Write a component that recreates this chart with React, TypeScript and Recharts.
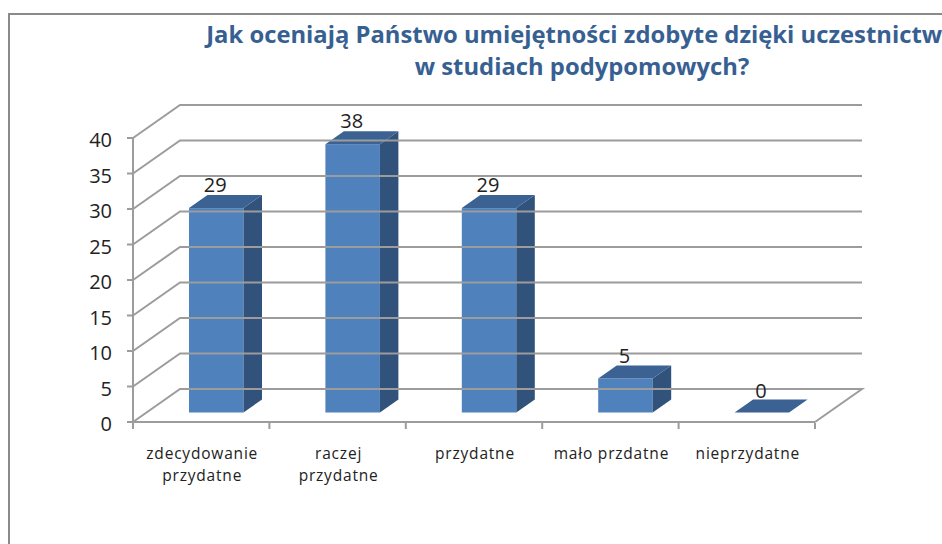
import React from 'react';
import { ComposedChart, Bar, XAxis, YAxis, ReferenceLine, LabelList } from 'recharts';

const categories = ['zdecydowanie przydatne', 'raczej przydatne', 'przydatne', 'mało przdatne', 'nieprzydatne'];
const categoryLines = [['zdecydowanie', 'przydatne'], ['raczej', 'przydatne'], ['przydatne'], ['mało przdatne'], ['nieprzydatne']];
const values = [29, 38, 29, 5, 0];
const yTicks = [0, 5, 10, 15, 20, 25, 30, 35, 40];
const titleLines = ['Jak oceniają Państwo umiejętności zdobyte dzięki uczestnictwu', 'w studiach podypomowych?'];

const data = categories.map((c, i) => ({ category: c, lines: categoryLines[i], value: values[i] }));

const DEPTH_X = 47;
const DEPTH_Y = 33;
const BAR_DX = 18.5;
const BAR_DY = 13;
const GRID = '#9c9c9c';
const FONT = '"Open Sans", sans-serif';

const Bar3D = (props: any) => {
  const { x, y, width, height } = props;
  const left = x + 15;
  const right = left + width;
  const bottom = y + height - 9.5;
  const top = Math.min(y - 8, bottom);
  return (
    <g>
      {bottom > top && <rect x={left} y={top} width={width} height={bottom - top} fill="#4f81bd" />}
      {bottom > top && (
        <polygon
          points={`${right},${top} ${right + BAR_DX},${top - BAR_DY} ${right + BAR_DX},${bottom - BAR_DY} ${right},${bottom}`}
          fill="#31527b"
        />
      )}
      <polygon
        points={`${left},${top} ${left + BAR_DX},${top - BAR_DY} ${right + BAR_DX},${top - BAR_DY} ${right},${top}`}
        fill="#3b6293"
      />
    </g>
  );
};

const GridLine = (props: any) => {
  const { x1, x2, y1 } = props;
  const by = y1 - DEPTH_Y;
  const isFloor = props.isFloor;
  const pts = isFloor
    ? `${x1},${y1} ${x1 + DEPTH_X},${by} ${x2 + DEPTH_X},${by} ${x2},${y1}`
    : `${x1},${y1} ${x1 + DEPTH_X},${by} ${x2 + DEPTH_X},${by}`;
  return <polyline points={pts} fill="none" stroke={GRID} strokeWidth={2} />;
};

const CategoryTick = (props: any) => {
  const { x, y, payload, index } = props;
  const band = 682 / 5;
  const lines = categoryLines[index] || [payload.value];
  const isLast = index === categories.length - 1;
  return (
    <g>
      <line x1={x - band / 2} x2={x - band / 2} y1={y - 7} y2={y - 1} stroke={GRID} strokeWidth={2} />
      {isLast && <line x1={x + band / 2} x2={x + band / 2} y1={y - 7} y2={y - 1} stroke={GRID} strokeWidth={2} />}
      {lines.map((l: string, i: number) => (
        <text key={i} x={x + 1} y={y + 29 + i * 22} textAnchor="middle" fontFamily={FONT} fontSize={15.5} letterSpacing={0.8} fontWeight={500} fill="#222">
          {l}
        </text>
      ))}
    </g>
  );
};

const ValueLabel = (props: any) => {
  const { x, y, width, value } = props;
  return (
    <text x={x + width / 2 + 14} y={y - 24} textAnchor="middle" fontFamily={FONT} fontSize={20} fill="#222">
      {value}
    </text>
  );
};

export default function App() {
  return (
    <div style={{ position: 'absolute', left: 0, top: 0, width: 942, height: 544, overflow: 'hidden', background: '#fff' }}>
      <div style={{ position: 'absolute', left: 8, top: 13, width: 960, height: 560, border: '2px solid #8a8a8a' }} />
      <div style={{ position: 'absolute', left: 0, top: 0 }}>
        <ComposedChart width={942} height={544} data={data} margin={{ left: 0, right: 127, top: 138, bottom: 0 }} barSize={54.5}>
          <XAxis
            dataKey="category"
            interval={0}
            axisLine={{ stroke: GRID, strokeWidth: 2 }}
            tickLine={false}
            tick={<CategoryTick />}
            height={122}
          />
          <YAxis
            domain={[0, 40]}
            ticks={yTicks}
            interval={0}
            width={133}
            axisLine={{ stroke: GRID, strokeWidth: 2 }}
            tickLine={{ stroke: GRID, strokeWidth: 2 }}
            tickSize={6}
            tickMargin={15}
            tick={{ fontFamily: FONT, fontSize: 20, fill: '#222', dy: 2 }}
          />
          {yTicks.map((t) => (
            <ReferenceLine key={t} y={t} ifOverflow="visible" shape={(p: any) => <GridLine {...p} isFloor={t === 0} />} />
          ))}
          <Bar dataKey="value" isAnimationActive={false} shape={<Bar3D />}>
            <LabelList dataKey="value" content={<ValueLabel />} />
          </Bar>
          {titleLines.map((l, i) => (
            <text key={l} x={582} y={43 + i * 32} textAnchor="middle" fontFamily={FONT} fontSize={23.8} fontWeight={700} fill="#376092">
              {l}
            </text>
          ))}
        </ComposedChart>
      </div>
    </div>
  );
}
